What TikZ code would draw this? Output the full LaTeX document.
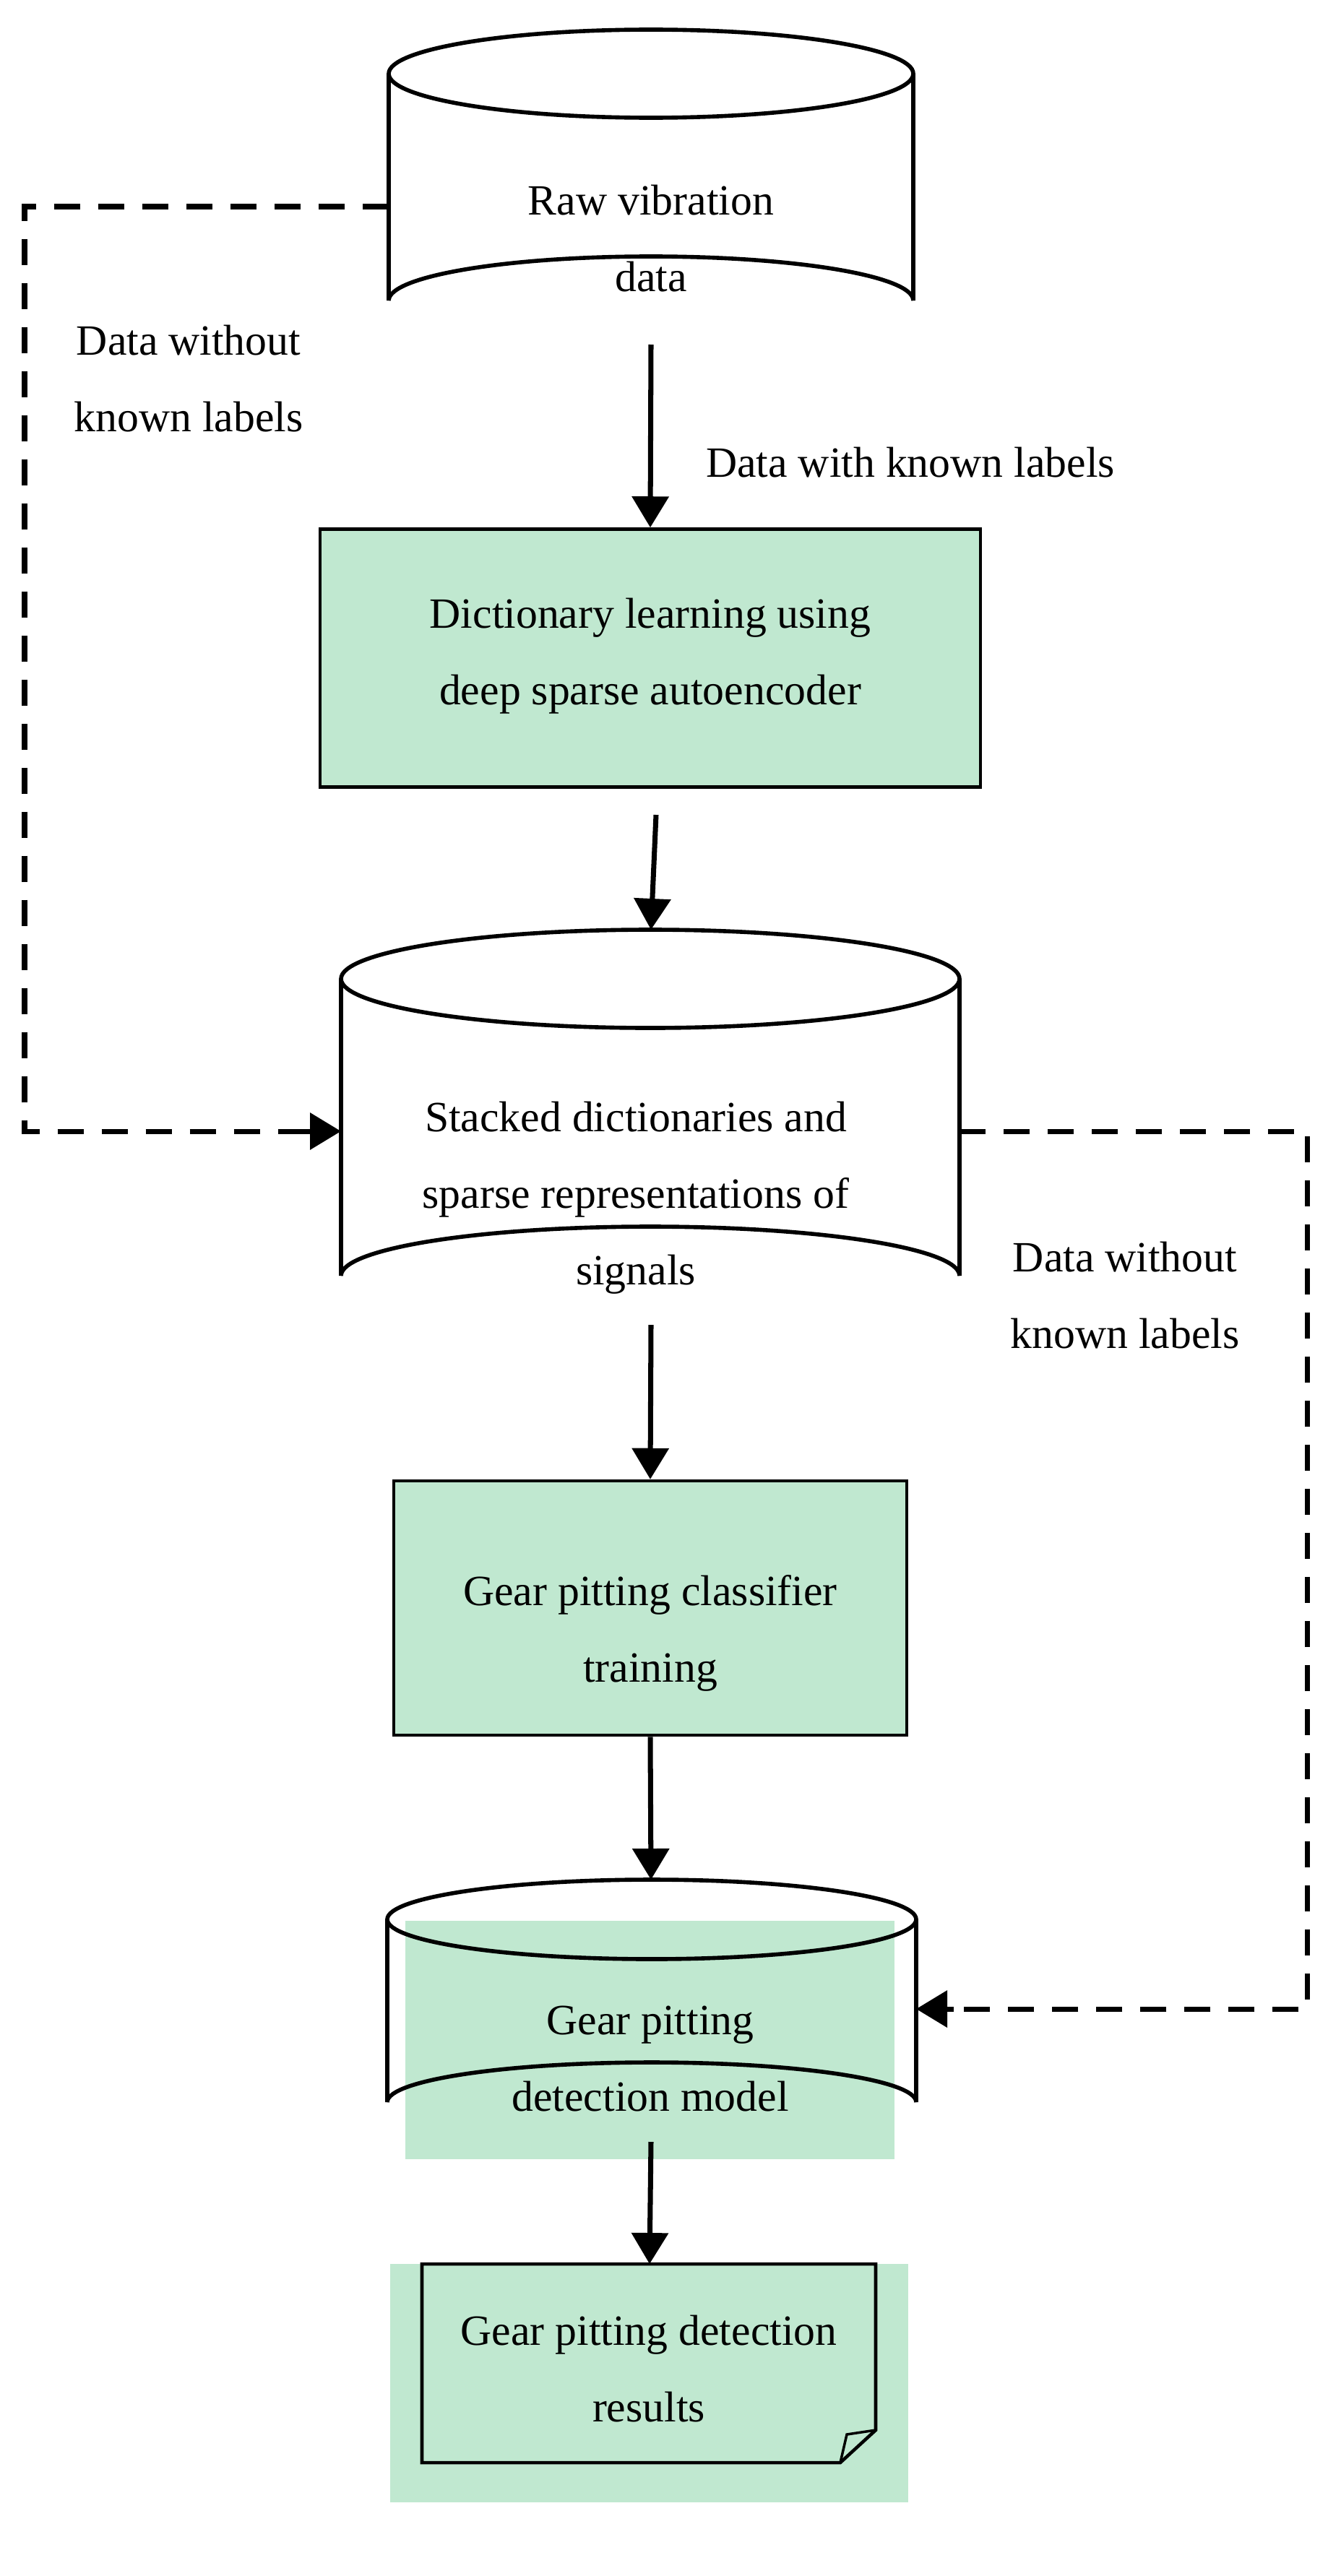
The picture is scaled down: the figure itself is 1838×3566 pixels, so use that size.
\documentclass[tikz,border=0pt]{standalone}
\usepackage{fontspec}
\setmainfont{Liberation Serif}
\usetikzlibrary{arrows.meta}
\definecolor{pale}{HTML}{C0E8D0}
\begin{document}
\begin{tikzpicture}[x=0.02cm,y=-0.02cm,
  txt/.style={font=\fontsize{34}{40}\selectfont,align=center,inner sep=0},
  outl/.style={line width=3.2pt},
  arr/.style={line width=4pt,-{Triangle[length=0.86cm,width=1cm]}},
  darr/.style={line width=4pt,dash pattern=on 0.72cm off 0.5cm},
  boxs/.style={draw,line width=2.6pt,fill=pale}]
\useasboundingbox (0,0) rectangle (1838,3566);
% cylinder macro-free drawing
% Cyl 1
\def\cyl#1#2#3#4#5{% left right topc botc ry
  \fill[white] (#1,#3) -- (#1,#4) arc[start angle=180,end angle=360,x radius={(#2-#1)/2},y radius=#5] -- (#2,#3) arc[start angle=0,end angle=180,x radius={(#2-#1)/2},y radius=#5];}
\def\cylo#1#2#3#4#5{%
  \draw[outl] (#1,#3) -- (#1,#4) arc[start angle=180,end angle=360,x radius={(#2-#1)/2},y radius=#5] -- (#2,#3);
  \draw[outl] ({(#1+#2)/2},#3) ellipse[x radius={(#2-#1)/2},y radius=#5];}
\cyl{538}{1264}{102}{416}{61}\cylo{538}{1264}{102}{416}{61}
\cyl{472}{1328}{1355}{1766}{68}\cylo{472}{1328}{1355}{1766}{68}
\cyl{536}{1268}{2657}{2910}{55}
\fill[pale] (561,2659) rectangle (1238,2989);
\cylo{536}{1268}{2657}{2910}{55}
\coordinate (c1l) at (538,286); \coordinate (c1b) at (901,477);
\coordinate (c2t) at (901,1287); \coordinate (c2b) at (901,1834);
\coordinate (c2l) at (472,1566); \coordinate (c2r) at (1328,1566);
\coordinate (c3t) at (901,2602); \coordinate (c3b) at (901,2965);
\coordinate (c3r) at (1268,2781);
\node[txt] (raw) at (901,330) {Raw vibration\\[0.72cm] data};
\node[boxs,minimum width=914*0.02cm,minimum height=357*0.02cm] (dict) at (900,911) {};
\node[txt] at (900,908) {Dictionary learning using\\[0.72cm] deep sparse autoencoder};
\node[txt] (stk) at (880,1658) {Stacked dictionaries and\\[0.72cm] sparse representations of\\[0.72cm] signals};
\node[boxs,minimum width=710*0.02cm,minimum height=352*0.02cm] (cls) at (900,2226) {};
\node[txt] at (900,2261) {Gear pitting classifier\\[0.72cm] training};
\node[txt] (mod) at (900,2850) {Gear pitting\\[0.72cm] detection model};
% document
\fill[pale] (540,3134) rectangle (1257,3464);
\draw[line width=2.6pt] (584,3134) -- (1212,3134) -- (1212,3364) -- (1163,3409) -- (584,3409) -- cycle;
\draw[line width=2pt] (1163,3409) -- (1172,3370) -- (1212,3364);
\node[txt] (res) at (898,3279) {Gear pitting detection\\[0.72cm] results};
% arrows
\draw[arr] (c1b) -- (dict.north);
\node[txt,anchor=center] at (1260,640) {Data with known labels};
\coordinate (f) at (908,1128);
\draw[arr] (f) -- (c2t);
\draw[arr] (c2b) -- (cls.north);
\draw[arr] (cls.south) -- (c3t);
\draw[arr] (c3b) -- (899,3134);
\draw[darr] (c1l) -- (34,286) -- (34,1566) -- (420,1566);
\draw[arr] (420,1566) -- (c2l);
\draw[darr] (c2r) -- (1809,1566) -- (1809,2781) -- (1320,2781);
\draw[arr] (1320,2781) -- (c3r);
\node[txt] at (261,524) {Data without\\[0.72cm] known labels};
\node[txt] at (1557,1793) {Data without\\[0.72cm] known labels};
\end{tikzpicture}
\end{document}
